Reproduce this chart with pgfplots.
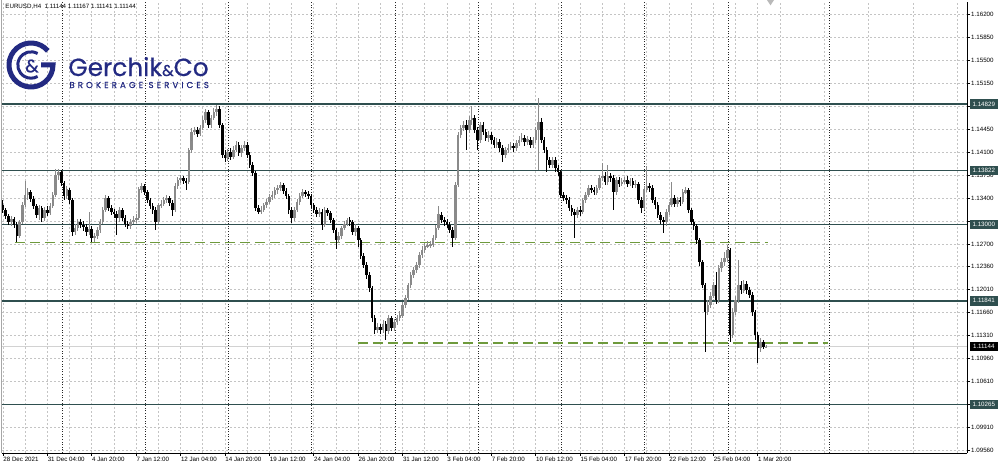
\documentclass[border=0pt]{standalone}
\usepackage{fontspec}
\setmainfont{Liberation Sans}
\newfontfamily\logofont{Poppins}[FakeBold=0.6]
\usepackage{pgfplots}
\pgfplotsset{compat=1.18}
\usepackage{pgfplotstable}
\definecolor{lvl}{HTML}{2F4F4F}
\definecolor{grn}{HTML}{6E9A3C}
\definecolor{gridc}{HTML}{C4C4C4}
\definecolor{bullc}{HTML}{8A8A8A}
\definecolor{logoc}{RGB}{35,42,130}
\newcommand\tickfont{\fontsize{3.1}{3.6}\selectfont}

\pgfplotstableread{
i o h l c
0 1.1330 1.1337 1.1318 1.1322
1 1.1322 1.1325 1.1308 1.1313
2 1.1313 1.1316 1.1299 1.1304
3 1.1304 1.1313 1.1298 1.1308
4 1.1308 1.1311 1.1295 1.1299
5 1.1299 1.1304 1.1273 1.1283
6 1.1283 1.1307 1.1280 1.1304
7 1.1304 1.1334 1.1301 1.1330
8 1.1330 1.1366 1.1327 1.1345
9 1.1345 1.1356 1.1337 1.1349
10 1.1349 1.1353 1.1334 1.1339
11 1.1339 1.1343 1.1324 1.1328
12 1.1328 1.1331 1.1310 1.1315
13 1.1315 1.1330 1.1307 1.1325
14 1.1325 1.1328 1.1304 1.1310
15 1.1310 1.1327 1.1305 1.1322
16 1.1322 1.1328 1.1313 1.1318
17 1.1318 1.1333 1.1315 1.1328
18 1.1328 1.1349 1.1325 1.1345
19 1.1345 1.1384 1.1342 1.1375
20 1.1375 1.1384 1.1368 1.1380
21 1.1380 1.1383 1.1359 1.1363
22 1.1363 1.1366 1.1337 1.1343
23 1.1343 1.1359 1.1339 1.1353
24 1.1353 1.1356 1.1331 1.1337
25 1.1337 1.1340 1.1283 1.1289
26 1.1289 1.1301 1.1284 1.1295
27 1.1295 1.1308 1.1290 1.1304
28 1.1304 1.1308 1.1295 1.1299
29 1.1299 1.1305 1.1290 1.1296
30 1.1296 1.1301 1.1283 1.1289
31 1.1289 1.1319 1.1284 1.1293
32 1.1293 1.1298 1.1273 1.1280
33 1.1280 1.1287 1.1273 1.1283
34 1.1283 1.1296 1.1278 1.1292
35 1.1292 1.1308 1.1287 1.1304
36 1.1304 1.1327 1.1301 1.1322
37 1.1322 1.1345 1.1319 1.1340
38 1.1340 1.1343 1.1321 1.1325
39 1.1325 1.1330 1.1315 1.1319
40 1.1319 1.1324 1.1310 1.1316
41 1.1316 1.1321 1.1284 1.1310
42 1.1310 1.1327 1.1304 1.1322
43 1.1322 1.1325 1.1305 1.1310
44 1.1310 1.1315 1.1296 1.1301
45 1.1301 1.1305 1.1293 1.1298
46 1.1298 1.1308 1.1293 1.1304
47 1.1304 1.1313 1.1301 1.1307
48 1.1307 1.1316 1.1302 1.1310
49 1.1310 1.1357 1.1307 1.1353
50 1.1353 1.1363 1.1348 1.1359
51 1.1359 1.1362 1.1345 1.1349
52 1.1349 1.1353 1.1333 1.1337
53 1.1337 1.1340 1.1324 1.1328
54 1.1328 1.1333 1.1316 1.1322
55 1.1322 1.1327 1.1292 1.1304
56 1.1304 1.1333 1.1301 1.1330
57 1.1330 1.1337 1.1325 1.1331
58 1.1331 1.1342 1.1328 1.1337
59 1.1337 1.1345 1.1333 1.1340
60 1.1340 1.1343 1.1328 1.1333
61 1.1333 1.1337 1.1313 1.1322
62 1.1322 1.1363 1.1319 1.1359
63 1.1359 1.1372 1.1354 1.1368
64 1.1368 1.1375 1.1363 1.1371
65 1.1371 1.1374 1.1362 1.1366
66 1.1366 1.1371 1.1353 1.1365
67 1.1365 1.1416 1.1362 1.1413
68 1.1413 1.1447 1.1409 1.1441
69 1.1441 1.1448 1.1436 1.1444
70 1.1444 1.1448 1.1433 1.1438
71 1.1438 1.1451 1.1435 1.1447
72 1.1447 1.1465 1.1444 1.1459
73 1.1459 1.1476 1.1454 1.1471
74 1.1471 1.1474 1.1447 1.1451
75 1.1451 1.1467 1.1447 1.1462
76 1.1462 1.1477 1.1459 1.1471
77 1.1471 1.1482 1.1465 1.1476
78 1.1476 1.1480 1.1447 1.1451
79 1.1451 1.1454 1.1401 1.1406
80 1.1406 1.1413 1.1395 1.1401
81 1.1401 1.1415 1.1397 1.1410
82 1.1410 1.1416 1.1398 1.1403
83 1.1403 1.1419 1.1400 1.1413
84 1.1413 1.1427 1.1410 1.1421
85 1.1421 1.1425 1.1404 1.1409
86 1.1409 1.1421 1.1403 1.1416
87 1.1416 1.1427 1.1412 1.1421
88 1.1421 1.1425 1.1401 1.1406
89 1.1406 1.1410 1.1386 1.1391
90 1.1391 1.1395 1.1374 1.1378
91 1.1378 1.1381 1.1321 1.1325
92 1.1325 1.1330 1.1316 1.1319
93 1.1319 1.1328 1.1316 1.1322
94 1.1322 1.1333 1.1319 1.1330
95 1.1330 1.1339 1.1325 1.1334
96 1.1334 1.1346 1.1331 1.1342
97 1.1342 1.1351 1.1337 1.1345
98 1.1345 1.1357 1.1340 1.1353
99 1.1353 1.1360 1.1346 1.1356
100 1.1356 1.1365 1.1351 1.1360
101 1.1360 1.1363 1.1346 1.1351
102 1.1351 1.1356 1.1339 1.1343
103 1.1343 1.1346 1.1316 1.1322
104 1.1322 1.1327 1.1302 1.1310
105 1.1310 1.1327 1.1305 1.1322
106 1.1322 1.1339 1.1319 1.1334
107 1.1334 1.1348 1.1330 1.1343
108 1.1343 1.1354 1.1340 1.1349
109 1.1349 1.1353 1.1342 1.1346
110 1.1346 1.1351 1.1339 1.1343
111 1.1343 1.1346 1.1325 1.1330
112 1.1330 1.1333 1.1318 1.1322
113 1.1322 1.1327 1.1311 1.1316
114 1.1316 1.1325 1.1311 1.1319
115 1.1319 1.1324 1.1292 1.1299
116 1.1299 1.1327 1.1296 1.1322
117 1.1322 1.1325 1.1313 1.1318
118 1.1318 1.1321 1.1302 1.1307
119 1.1307 1.1310 1.1287 1.1292
120 1.1292 1.1295 1.1263 1.1277
121 1.1277 1.1289 1.1272 1.1283
122 1.1283 1.1298 1.1278 1.1295
123 1.1295 1.1305 1.1292 1.1301
124 1.1301 1.1310 1.1298 1.1307
125 1.1307 1.1311 1.1298 1.1304
126 1.1304 1.1307 1.1284 1.1289
127 1.1289 1.1301 1.1283 1.1295
128 1.1295 1.1298 1.1266 1.1277
129 1.1277 1.1280 1.1248 1.1252
130 1.1252 1.1257 1.1234 1.1239
131 1.1239 1.1243 1.1217 1.1223
132 1.1223 1.1228 1.1197 1.1204
133 1.1204 1.1207 1.1152 1.1158
134 1.1158 1.1162 1.1134 1.1140
135 1.1140 1.1150 1.1135 1.1144
136 1.1144 1.1149 1.1134 1.1140
137 1.1140 1.1155 1.1135 1.1149
138 1.1149 1.1153 1.1124 1.1138
139 1.1138 1.1162 1.1134 1.1158
140 1.1158 1.1161 1.1138 1.1143
141 1.1143 1.1156 1.1138 1.1152
142 1.1152 1.1162 1.1147 1.1158
143 1.1158 1.1169 1.1153 1.1162
144 1.1162 1.1182 1.1158 1.1178
145 1.1178 1.1193 1.1173 1.1188
146 1.1188 1.1211 1.1185 1.1208
147 1.1208 1.1228 1.1204 1.1223
148 1.1223 1.1235 1.1219 1.1231
149 1.1231 1.1243 1.1226 1.1239
150 1.1239 1.1258 1.1234 1.1254
151 1.1254 1.1267 1.1249 1.1261
152 1.1261 1.1272 1.1257 1.1267
153 1.1267 1.1275 1.1264 1.1269
154 1.1269 1.1275 1.1264 1.1270
155 1.1270 1.1284 1.1266 1.1280
156 1.1280 1.1299 1.1277 1.1295
157 1.1295 1.1328 1.1292 1.1315
158 1.1315 1.1319 1.1302 1.1307
159 1.1307 1.1311 1.1298 1.1304
160 1.1304 1.1308 1.1295 1.1299
161 1.1299 1.1304 1.1287 1.1292
162 1.1292 1.1296 1.1266 1.1280
163 1.1280 1.1365 1.1277 1.1360
164 1.1360 1.1441 1.1357 1.1436
165 1.1436 1.1451 1.1432 1.1447
166 1.1447 1.1457 1.1442 1.1451
167 1.1451 1.1459 1.1413 1.1444
168 1.1444 1.1465 1.1439 1.1459
169 1.1459 1.1480 1.1451 1.1462
170 1.1462 1.1467 1.1439 1.1444
171 1.1444 1.1448 1.1413 1.1429
172 1.1429 1.1456 1.1424 1.1451
173 1.1451 1.1456 1.1436 1.1441
174 1.1441 1.1445 1.1427 1.1432
175 1.1432 1.1442 1.1425 1.1436
176 1.1436 1.1441 1.1422 1.1429
177 1.1429 1.1433 1.1416 1.1421
178 1.1421 1.1432 1.1416 1.1425
179 1.1425 1.1430 1.1410 1.1416
180 1.1416 1.1421 1.1395 1.1406
181 1.1406 1.1418 1.1401 1.1413
182 1.1413 1.1422 1.1409 1.1416
183 1.1416 1.1425 1.1413 1.1419
184 1.1419 1.1424 1.1410 1.1416
185 1.1416 1.1429 1.1412 1.1424
186 1.1424 1.1435 1.1419 1.1429
187 1.1429 1.1439 1.1425 1.1432
188 1.1432 1.1436 1.1419 1.1425
189 1.1425 1.1435 1.1421 1.1429
190 1.1429 1.1433 1.1416 1.1421
191 1.1421 1.1433 1.1416 1.1429
192 1.1429 1.1448 1.1424 1.1444
193 1.1444 1.1492 1.1383 1.1456
194 1.1456 1.1462 1.1424 1.1429
195 1.1429 1.1433 1.1409 1.1413
196 1.1413 1.1418 1.1380 1.1398
197 1.1398 1.1403 1.1386 1.1391
198 1.1391 1.1403 1.1386 1.1398
199 1.1398 1.1403 1.1380 1.1386
200 1.1386 1.1391 1.1374 1.1380
201 1.1380 1.1383 1.1340 1.1345
202 1.1345 1.1349 1.1336 1.1340
203 1.1340 1.1345 1.1331 1.1337
204 1.1337 1.1342 1.1321 1.1325
205 1.1325 1.1330 1.1313 1.1319
206 1.1319 1.1324 1.1280 1.1315
207 1.1315 1.1327 1.1310 1.1322
208 1.1322 1.1328 1.1313 1.1319
209 1.1319 1.1340 1.1316 1.1337
210 1.1337 1.1349 1.1333 1.1345
211 1.1345 1.1360 1.1342 1.1356
212 1.1356 1.1360 1.1348 1.1353
213 1.1353 1.1357 1.1345 1.1349
214 1.1349 1.1360 1.1345 1.1356
215 1.1356 1.1375 1.1353 1.1371
216 1.1371 1.1394 1.1366 1.1374
217 1.1374 1.1380 1.1360 1.1365
218 1.1365 1.1391 1.1360 1.1374
219 1.1374 1.1378 1.1365 1.1371
220 1.1371 1.1375 1.1322 1.1349
221 1.1349 1.1372 1.1345 1.1368
222 1.1368 1.1372 1.1357 1.1362
223 1.1362 1.1371 1.1359 1.1365
224 1.1365 1.1372 1.1362 1.1368
225 1.1368 1.1374 1.1357 1.1362
226 1.1362 1.1371 1.1359 1.1366
227 1.1366 1.1371 1.1356 1.1360
228 1.1360 1.1368 1.1356 1.1362
229 1.1362 1.1365 1.1331 1.1337
230 1.1337 1.1342 1.1318 1.1325
231 1.1325 1.1359 1.1322 1.1353
232 1.1353 1.1389 1.1349 1.1359
233 1.1359 1.1363 1.1349 1.1356
234 1.1356 1.1360 1.1333 1.1337
235 1.1337 1.1342 1.1324 1.1330
236 1.1330 1.1334 1.1310 1.1315
237 1.1315 1.1319 1.1301 1.1307
238 1.1307 1.1311 1.1287 1.1304
239 1.1304 1.1324 1.1298 1.1319
240 1.1319 1.1334 1.1315 1.1330
241 1.1330 1.1365 1.1327 1.1340
242 1.1340 1.1345 1.1327 1.1331
243 1.1331 1.1342 1.1327 1.1337
244 1.1337 1.1342 1.1328 1.1334
245 1.1334 1.1354 1.1331 1.1349
246 1.1349 1.1357 1.1346 1.1353
247 1.1353 1.1356 1.1318 1.1322
248 1.1322 1.1325 1.1299 1.1304
249 1.1304 1.1308 1.1292 1.1298
250 1.1298 1.1301 1.1270 1.1277
251 1.1277 1.1280 1.1237 1.1243
252 1.1243 1.1246 1.1204 1.1208
253 1.1208 1.1211 1.1106 1.1167
254 1.1167 1.1185 1.1162 1.1178
255 1.1178 1.1197 1.1173 1.1191
256 1.1191 1.1213 1.1188 1.1208
257 1.1208 1.1228 1.1179 1.1185
258 1.1185 1.1239 1.1181 1.1234
259 1.1234 1.1249 1.1228 1.1243
260 1.1243 1.1258 1.1237 1.1249
261 1.1249 1.1269 1.1243 1.1261
262 1.1261 1.1264 1.1121 1.1132
263 1.1132 1.1173 1.1128 1.1167
264 1.1167 1.1191 1.1162 1.1185
265 1.1185 1.1246 1.1181 1.1208
266 1.1208 1.1214 1.1194 1.1200
267 1.1200 1.1216 1.1196 1.1210
268 1.1210 1.1214 1.1194 1.1200
269 1.1200 1.1205 1.1188 1.1193
270 1.1193 1.1197 1.1161 1.1167
271 1.1167 1.1170 1.1124 1.1132
272 1.1132 1.1137 1.1090 1.1112
273 1.1112 1.1128 1.1106 1.1121
274 1.1121 1.1124 1.1111 1.1114
275 1.11144 1.11167 1.11141 1.11144
}\candles

\begin{document}
\begin{tikzpicture}
\useasboundingbox (0pt,0pt) rectangle (500pt,233.5pt);
\begin{axis}[
  at={(1pt,7pt)}, anchor=south west,
  width=482.5pt, height=225.5pt, scale only axis,
  xmin=-0.36, xmax=347.39, ymin=1.095272, ymax=1.163824,
  axis x line*=bottom, axis y line*=right,
  axis line style={black, line width=0.5pt},
  clip=false,
  xtick={0,16,...,272},
  xticklabels={28 Dec 2021,31 Dec 04:00,4 Jan 20:00,7 Jan 12:00,12 Jan 04:00,14 Jan 20:00,19 Jan 12:00,24 Jan 04:00,26 Jan 20:00,31 Jan 12:00,3 Feb 04:00,7 Feb 20:00,10 Feb 12:00,15 Feb 04:00,17 Feb 20:00,22 Feb 12:00,25 Feb 04:00,1 Mar 20:00},
  minor xtick={8,24,...,344},
  ytick={1.0956,1.0991,1.1026,1.1061,1.1096,1.1131,1.1166,1.1201,1.1236,1.1270,1.1305,1.1340,1.1375,1.1410,1.1445,1.1480,1.1515,1.1550,1.1585,1.1620},
  yticklabels={1.09560,1.09910,,1.10610,1.10960,1.11310,1.11660,1.12010,1.12360,1.12700,,1.13400,1.13750,1.14100,1.14450,,1.15150,1.15500,1.15850,1.16200},
  grid=both,
  major grid style={gridc, line width=0.4pt, dash pattern=on 1pt off 1pt},
  minor grid style={gridc, line width=0.4pt, dash pattern=on 1pt off 1pt},
  tick align=outside, major tick length=1.5pt, minor tick length=0pt,
  tick style={black, line width=0.4pt},
  tick label style={font=\tickfont},
  xticklabel style={anchor=north west, inner sep=0.4pt, xshift=-0.4pt},
  yticklabel style={anchor=west, inner sep=0.4pt},
  extra x ticks={21.3,51.3,81.3,111.3,141.3,171.3,201.3,231.3,261.3,297.7},
  extra x tick labels={},
  extra x tick style={grid=major, major grid style={black!85, line width=0.5pt, dash pattern=on 0.55pt off 0.75pt}, major tick length=0pt},
  candle/.style={only marks, mark=*, mark size=0pt, mark options={draw=none, fill=none}, forget plot},
]
% horizontal levels
\addplot[lvl, line width=0.9pt] coordinates {(-0.36,1.14829) (347.39,1.14829)};
\addplot[lvl, line width=0.9pt] coordinates {(-0.36,1.13822) (347.39,1.13822)};
\addplot[lvl, line width=0.9pt] coordinates {(-0.36,1.13000) (347.39,1.13000)};
\addplot[lvl, line width=0.9pt] coordinates {(-0.36,1.11841) (347.39,1.11841)};
\addplot[lvl, line width=0.9pt] coordinates {(-0.36,1.10265) (347.39,1.10265)};
\addplot[gray!35, line width=0.5pt] coordinates {(-0.36,1.11144) (347.39,1.11144)};
\addplot[grn, line width=0.55pt, dash pattern=on 5pt off 2.5pt] coordinates {(4.3,1.1272) (275.7,1.1272)};
\addplot[grn, line width=0.55pt, dash pattern=on 5pt off 2.5pt] coordinates {(127.9,1.1120) (297.3,1.1120)};
% wicks
\addplot[candle, restrict expr to domain={\thisrow{c}-\thisrow{o}}{0:1},
  error bars/.cd, y dir=both, y explicit, error mark=none, error bar style={draw=bullc, line width=0.5pt, solid}]
  table[x=i, y expr={(\thisrow{h}+\thisrow{l})/2}, y error expr={(\thisrow{h}-\thisrow{l})/2}] {\candles};
\addplot[candle, restrict expr to domain={\thisrow{c}-\thisrow{o}}{-1:-0.00001},
  error bars/.cd, y dir=both, y explicit, error mark=none, error bar style={draw=black, line width=0.5pt, solid}]
  table[x=i, y expr={(\thisrow{h}+\thisrow{l})/2}, y error expr={(\thisrow{h}-\thisrow{l})/2}] {\candles};
% bodies
\addplot[candle, restrict expr to domain={\thisrow{c}-\thisrow{o}}{0:1},
  error bars/.cd, y dir=both, y explicit, error mark=none, error bar style={draw=bullc, line width=1.3pt, solid}]
  table[x=i, y expr={(\thisrow{o}+\thisrow{c})/2}, y error expr={abs(\thisrow{c}-\thisrow{o})/2+0.00003}] {\candles};
\addplot[candle, restrict expr to domain={\thisrow{c}-\thisrow{o}}{-1:-0.00001},
  error bars/.cd, y dir=both, y explicit, error mark=none, error bar style={draw=black, line width=1.3pt, solid}]
  table[x=i, y expr={(\thisrow{o}+\thisrow{c})/2}, y error expr={abs(\thisrow{c}-\thisrow{o})/2}] {\candles};
% price boxes
\tikzset{pbox/.style={fill=lvl, text=white, anchor=west, inner sep=0pt, minimum width=14pt, minimum height=4.8pt, font=\tickfont, xshift=1.2pt}}
\node[pbox] at (axis cs:347.39,1.14829) {1.14829};
\node[pbox] at (axis cs:347.39,1.13822) {1.13822};
\node[pbox] at (axis cs:347.39,1.13000) {1.13000};
\node[pbox] at (axis cs:347.39,1.11841) {1.11841};
\node[pbox] at (axis cs:347.39,1.10265) {1.10265};
\node[pbox, fill=black] at (axis cs:347.39,1.11144) {1.11144};
\end{axis}
% left frame
\draw[gray!70, line width=0.6pt] (0.6pt,7pt) -- (0.6pt,233.5pt);
% shift marker
\fill[gray!55] (383.5pt,233.5pt) -- (387pt,233.5pt) -- (385.25pt,230.8pt) -- cycle;
% header
\node[anchor=north west, inner sep=0pt, font=\tickfont] at (2.5pt,231.6pt) {EURUSD,H4\ \ 1.11144 1.11167 1.11141 1.11144};
% logo
\begin{scope}[logoc]
\draw[line width=2.5pt] (15.5pt,201pt) ++(40:11pt) arc[start angle=40,end angle=360,radius=11pt] -- ++(-6pt,0pt);
\draw[line width=1.5pt] (15.5pt,201pt) ++(60:6.6pt) arc[start angle=60,end angle=300,radius=6.6pt];
\node[text=logoc, inner sep=0pt] at (16pt,200.5pt) {\logofont\fontsize{9}{9}\selectfont\&};
\end{scope}
\node[anchor=base west, inner sep=0pt, text=logoc] at (34pt,195.5pt) {\logofont\fontsize{12.4}{12.4}\selectfont Gerchik{\fontsize{7.8}{7.8}\selectfont\&}Co};
\node[anchor=base west, inner sep=0pt, text=logoc] at (34.5pt,189.5pt) {\logofont\fontsize{4.3}{4.3}\selectfont\addfontfeature{LetterSpace=36}BROKERAGE SERVICES};
\end{tikzpicture}
\end{document}
